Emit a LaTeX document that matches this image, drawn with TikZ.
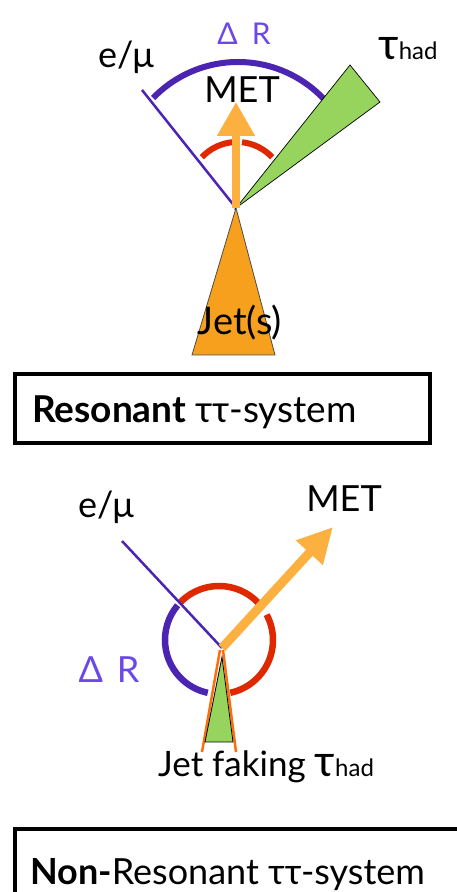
\documentclass[tikz,border=0pt]{standalone}
\usepackage{fontspec}
\setmainfont{Lato}
\usetikzlibrary{arrows.meta}
\definecolor{lepP}{RGB}{76,36,178}
\definecolor{drP}{RGB}{108,72,232}
\definecolor{angR}{RGB}{224,40,0}
\definecolor{metO}{RGB}{252,176,64}
\definecolor{jetO}{RGB}{247,160,30}
\definecolor{tauG}{RGB}{150,212,94}
\definecolor{fakeO}{RGB}{255,110,10}
\newcommand{\fsz}[1]{\fontsize{#1}{#1}\selectfont}
\newcommand{\tauhad}{{\fsz{44}τ}{\fsz{24}had}}

\begin{document}
\begin{tikzpicture}[x=1pt,y=1pt,>={Triangle[width=36pt,length=34pt]}]
\useasboundingbox (0,0) rectangle (457,892);
\clip (0,0) rectangle (457,892);
\begin{scope}
\coordinate (v1) at (236,684);
\coordinate (lep1) at (142,802);
\coordinate (met1) at (236,790);
\filldraw[fill=jetO,draw=black!70,line width=0.8pt] (v1)--(192,537)--(275,537)--cycle;
\draw[lepP,line width=2.5pt] (lep1)--(v1);
\draw[lepP,line width=6pt] (238,712) ++(43:118) arc (43:136:118);
\draw[angR,line width=6pt] (237,702) ++(43:48) arc (43:84:48) (237,702) ++(93:48) arc (93:137:48);
\filldraw[fill=tauG,draw=black,line width=0.7pt] (v1)--(350,827)--(380,790)--cycle;
\draw[->,metO,line width=8pt] (v1)--(met1);
\node[anchor=base,text=drP,font=\fsz{30}] (dr1) at (244,847) {Δ\hspace{14pt}R};
\node[anchor=base,font=\fsz{36}] (metlab1) at (242,789) {MET};
\node[anchor=base,font=\fsz{36}] (leplab1) at (126,824) {e/μ};
\node[anchor=base west,inner sep=0pt] (taulab1) at (378,832) {\tauhad};
\node[anchor=base,font=\fsz{38}] (jetlab) at (240,557) {Jet(s)};
\draw[line width=4pt] (15,518) rectangle (430,449);
\node[anchor=base west,inner sep=0pt,font=\fsz{37}] (res) at (32,469) {\textbf{Resonant} ττ-system};
\end{scope}
\begin{scope}
\coordinate (v2) at (222,244);
\coordinate (lep2) at (122,351);
\coordinate (met2) at (333,365);
\coordinate (c2) at (219,252);
\draw[angR,line width=6.5pt] (c2) ++(37:54) arc (37:136:54) (c2) ++(-78:54) arc (-78:28:54);
\draw[lepP,line width=6.5pt] (c2) ++(140:54) arc (140:258:54);
\draw[lepP,line width=2.5pt] (lep2)--(v2);
\draw[->,metO,line width=9pt,>={Triangle[width=34pt,length=35pt]}] (v2)--(met2);
\draw[fakeO,line width=2.5pt] (220,242)--(202,140) (223,242)--(236,140);
\filldraw[fill=tauG,draw=black,line width=0.8pt] (222,235)--(205,150)--(233,150)--cycle;
\node[anchor=base,font=\fsz{36}] (leplab2) at (106,374) {e/μ};
\node[anchor=base,font=\fsz{36}] (metlab2) at (344,380) {MET};
\node[anchor=base,text=drP,font=\fsz{36}] (dr2) at (109,209) {Δ\hspace{14pt}R};
\node[anchor=base west,inner sep=0pt,font=\fsz{35}] (fakelab) at (158,115) {Jet faking \tauhad};
\draw[line width=4pt] (15,63) rectangle (480,-30);
\node[anchor=base west,inner sep=0pt,font=\fsz{36}] (nonres) at (30,7) {\textbf{Non-}Resonant ττ-system};
\end{scope}
\end{tikzpicture}
\end{document}
